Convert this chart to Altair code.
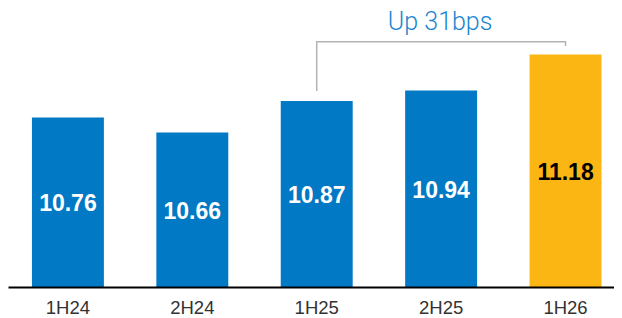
import altair as alt
import pandas as pd

# ---- data ----
periods = ["1H24", "2H24", "1H25", "2H25", "1H26"]
values = [10.76, 10.66, 10.87, 10.94, 11.18]

# bracket annotation (from 1H25 to 1H26)
bracket_periods = ["1H25", "1H25", "1H26", "1H26"]
bracket_values = [10.937, 11.265, 11.265, 11.237]
bracket_order = [0, 1, 2, 3]

annot_period = ["2H25"]
annot_value = [11.40]
annot_text = ["Up 31bps"]

Y_MIN, Y_MAX = 9.63, 11.49
HIGHLIGHT = "1H26"

df = pd.DataFrame({"period": periods, "value": values})
df["mid"] = (df["value"] + Y_MIN) / 2

bracket_df = pd.DataFrame({"period": bracket_periods, "value": bracket_values, "i": bracket_order})
annot_df = pd.DataFrame({"period": annot_period, "value": annot_value, "text": annot_text})

FONT = "Liberation Sans"

x = alt.X(
    "period:N",
    sort=periods,
    scale=alt.Scale(domain=periods, paddingInner=0.4217, paddingOuter=0.1465, align=0.657),
    axis=alt.Axis(
        title=None, labelAngle=0, ticks=False, domainColor="#000000", domainWidth=2,
        labelFontSize=18.5, labelColor="#333333", labelPadding=11, labelFont=FONT,
        zindex=1,
    ),
)
yscale = alt.Scale(domain=[Y_MIN, Y_MAX], zero=False, nice=False)

bars = alt.Chart(df).mark_bar().encode(
    x=x,
    y=alt.Y("value:Q", scale=yscale, axis=None),
    y2=alt.datum(Y_MIN),
    color=alt.condition(alt.datum.period == HIGHLIGHT, alt.value("#FCB614"), alt.value("#0279C4")),
)

labels = alt.Chart(df).mark_text(
    font=FONT, fontSize=23, fontWeight="bold", baseline="middle", dy=2
).encode(
    x=alt.X("period:N", sort=periods),
    y=alt.Y("mid:Q", scale=yscale, axis=None),
    text=alt.Text("value:Q", format=".2f"),
    color=alt.condition(alt.datum.period == HIGHLIGHT, alt.value("#000000"), alt.value("#FFFFFF")),
)

bracket = alt.Chart(bracket_df).mark_line(color="#B3B3B3", strokeWidth=1.5).encode(
    x=alt.X("period:N", sort=periods),
    y=alt.Y("value:Q", scale=yscale, axis=None),
    order="i:Q",
)

annot = alt.Chart(annot_df).mark_text(
    font="Roboto", fontSize=25, fontWeight=300, color="#1A86D0", baseline="middle", dx=-1
).encode(
    x=alt.X("period:N", sort=periods),
    y=alt.Y("value:Q", scale=yscale, axis=None),
    text="text:N",
)

chart = alt.layer(bars, labels, bracket, annot).properties(
    width=606, height=279, padding=0
).configure_view(stroke=None)

chart.save("out.html", embed_options={"renderer": "svg", "actions": False})
